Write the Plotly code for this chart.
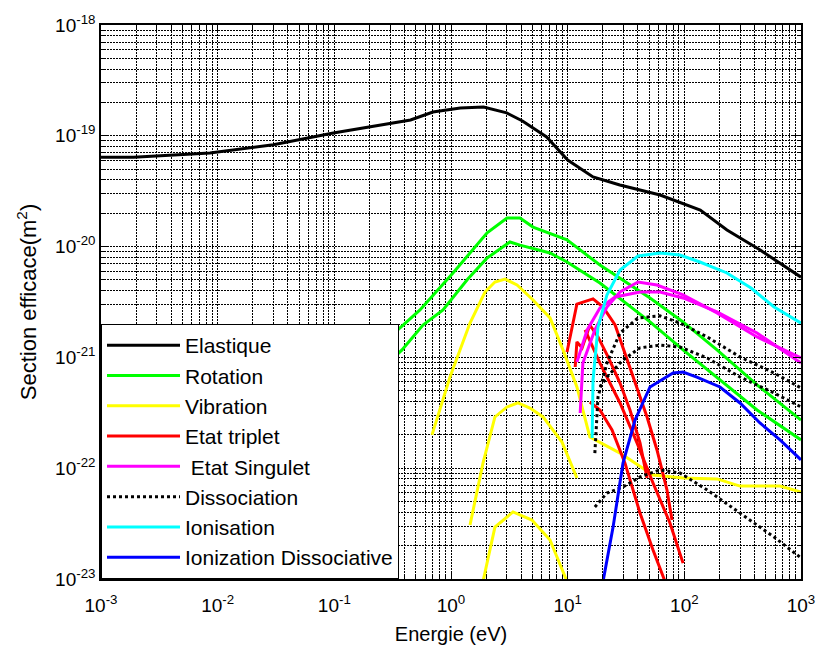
import plotly.graph_objects as go

# Cross sections (m^2) versus electron energy (eV)

elastic_E = [1e-3, 1.9e-3, 8.6e-3, 0.03, 0.098, 0.19, 0.45, 0.70, 1.2, 1.9, 3.0, 4.1, 6.6, 10, 16.5, 28, 62, 137, 232, 447, 1000]
elastic_sigma = [6.4e-20, 6.4e-20, 7.0e-20, 8.3e-20, 1.06e-19, 1.2e-19, 1.39e-19, 1.64e-19, 1.78e-19, 1.82e-19, 1.61e-19,
                 1.36e-19, 9.75e-20, 6.05e-20, 4.25e-20, 3.6e-20, 2.92e-20, 2.14e-20, 1.41e-20, 9.3e-21, 5.3e-21]

rotation_E = [
    [0.136, 0.366, 0.542, 1.04, 2.04, 3.02, 3.90, 5.05, 9.87, 18.9, 50.8, 97.5, 190.5, 420, 1000],
    [0.136, 0.380, 0.575, 0.854, 1.37, 2.04, 3.20, 3.90, 7.06, 9.87, 18.9, 50.8, 97.5, 202, 420, 1000],
]
rotation_sigma = [
    [7.23e-22, 1.84e-21, 2.68e-21, 5.78e-21, 1.33e-20, 1.81e-20, 1.81e-20, 1.50e-20, 1.15e-20, 6.82e-21, 3.44e-21,
     2.09e-21, 1.17e-21, 5.64e-22, 2.72e-22],
    [4.13e-22, 1.17e-21, 1.96e-21, 2.68e-21, 5.0e-21, 7.89e-21, 1.10e-20, 1.03e-20, 8.75e-21, 7.26e-21, 4.69e-21,
     2.09e-21, 1.17e-21, 6.25e-22, 3.35e-22, 1.80e-22],
]

vibration_E = [
    [0.687, 0.98, 1.455, 1.955, 2.38, 2.90, 3.68, 5.05, 7.06, 9.12, 12.0, 15.5, 28.1, 41.7, 53.9, 97.5, 190.5, 300, 661, 1000],
    [1.455, 1.88, 2.38, 3.02, 3.75, 4.75, 6.15, 8.94, 12.0],
    [1.88, 2.38, 3.40, 4.94, 7.06, 9.87],
]
vibration_sigma = [
    [2.0e-22, 6.65e-22, 2.04e-21, 3.89e-21, 4.79e-21, 5.10e-21, 4.50e-21, 3.30e-21, 2.27e-21, 1.17e-21, 5.41e-22,
     1.91e-22, 1.37e-22, 1.03e-22, 8.69e-23, 8.16e-23, 8.0e-23, 6.9e-23, 6.9e-23, 6.1e-23],
    [3.07e-23, 1.11e-22, 2.90e-22, 3.57e-22, 3.88e-22, 3.49e-22, 2.90e-22, 1.72e-22, 8.16e-23],
    [9.5e-24, 2.94e-23, 4.03e-23, 3.40e-23, 2.25e-23, 9.5e-24],
]

triplet_E = [
    [9.87, 12.0, 16.5, 20.1, 25.5, 31.0, 39.3, 47.9, 58.3, 71.0, 78.4],
    [11.6, 12.0, 13.3, 15.5, 18.2, 22.2, 28.1, 34.2, 41.7, 47.9],
    [14.1, 18.9, 28.1, 39.3, 53.9, 75.3, 97.5],
    [15.5, 18.9, 24.0, 31.0, 41.7, 53.9, 68.3],
]
triplet_sigma = [
    [1.12e-21, 3.03e-21, 3.37e-21, 2.85e-21, 1.96e-21, 1.10e-21, 5.41e-22, 2.90e-22, 1.46e-22, 6.36e-23, 3.40e-23],
    [8.19e-22, 1.38e-21, 1.22e-21, 1.96e-21, 1.53e-21, 1.01e-21, 5.87e-22, 3.35e-22, 1.69e-22, 8.16e-23],
    [1.77e-21, 8.89e-22, 3.88e-22, 1.69e-22, 7.35e-23, 3.2e-23, 1.39e-23],
    [3.96e-22, 3.35e-22, 2.21e-22, 1.11e-22, 3.94e-23, 1.83e-23, 9.5e-24],
]

singlet_E = [
    [12.8, 13.5, 17.1, 21.7, 28.1, 40.1, 58.3, 97.5, 190.5, 420, 1000],
    [12.0, 14.7, 18.9, 25.5, 41.7, 61.8, 97.5, 190.5, 420, 1000],
]
singlet_sigma = [
    [3.15e-22, 8.89e-22, 1.77e-21, 2.85e-21, 3.89e-21, 4.79e-21, 4.50e-21, 3.66e-21, 2.52e-21, 1.53e-21, 9.88e-22],
    [9.08e-22, 1.77e-21, 2.79e-21, 3.51e-21, 3.89e-21, 3.89e-21, 3.44e-21, 2.57e-21, 1.66e-21, 8.89e-22],
]

dissociation_E = [
    [17.1, 18.2, 21.7, 28.1, 40.1, 61.8, 91.8, 157, 300, 588, 1000],
    [18.9, 21.7, 29.8, 41.7, 61.8, 91.8, 157, 300, 588, 1000],
    [17.1, 21.7, 29.8, 41.7, 61.8, 91.8, 157, 300, 588, 1000],
]
dissociation_sigma = [
    [1.37e-22, 4.39e-22, 8.89e-22, 1.66e-21, 2.27e-21, 2.37e-21, 2.04e-21, 1.53e-21, 1.01e-21, 7.23e-22, 5.30e-22],
    [5.41e-22, 6.65e-22, 9.48e-22, 1.22e-21, 1.29e-21, 1.24e-21, 9.88e-22, 6.65e-22, 4.77e-22, 3.57e-22],
    [4.47e-23, 5.97e-23, 6.76e-23, 8.33e-23, 9.64e-23, 9.06e-23, 6.36e-23, 3.94e-23, 2.39e-23, 1.55e-23],
]

ionisation_E = [16.2, 16.5, 18.2, 21.7, 28.1, 40.1, 61.8, 91.8, 136, 232, 373, 588, 1000]
ionisation_sigma = [1.87e-22, 6.25e-22, 1.88e-21, 3.66e-21, 6.15e-21, 8.22e-21, 8.75e-21, 8.4e-21, 7.26e-21,
                    5.78e-21, 4.23e-21, 2.85e-21, 2.04e-21]

dissoc_ion_E = [20.1, 24.5, 29.8, 37.8, 50.8, 80.0, 97.5, 128, 202, 300, 445, 661, 1000]
dissoc_ion_sigma = [9.5e-24, 2.94e-23, 1.11e-22, 2.72e-22, 5.41e-22, 7.23e-22, 7.38e-22, 6.65e-22, 5.41e-22,
                    3.88e-22, 2.56e-22, 1.80e-22, 1.19e-22]

tick_x = [1e-3, 1e-2, 1e-1, 1e0, 1e1, 1e2, 1e3]
tick_x_text = ["10<sup>-3</sup>", "10<sup>-2</sup>", "10<sup>-1</sup>", "10<sup>0</sup>",
               "10<sup>1</sup>", "10<sup>2</sup>", "10<sup>3</sup>"]
tick_y = [1e-23, 1e-22, 1e-21, 1e-20, 1e-19, 1e-18]
tick_y_text = ["10<sup>-23</sup>", "10<sup>-22</sup>", "10<sup>-21</sup>", "10<sup>-20</sup>",
               "10<sup>-19</sup>", "10<sup>-18</sup>"]

FONT = "Arial, Liberation Sans, sans-serif"
LW = 3

fig = go.Figure()


def add_group(name, xs_list, ys_list, color, dash="solid"):
    for i, (xs, ys) in enumerate(zip(xs_list, ys_list)):
        fig.add_trace(go.Scatter(
            x=xs, y=ys, mode="lines", name=name, legendgroup=name,
            showlegend=(i == 0), line=dict(color=color, width=LW, dash=dash),
        ))


add_group("Elastique", [elastic_E], [elastic_sigma], "#000000")
add_group("Rotation", rotation_E, rotation_sigma, "#00ff00")
add_group("Vibration", vibration_E, vibration_sigma, "#ffff00")
add_group("Etat triplet", triplet_E, triplet_sigma, "#ff0000")
add_group("\u00a0Etat Singulet", singlet_E, singlet_sigma, "#ff00ff")
add_group("Dissociation", dissociation_E, dissociation_sigma, "#000000", dash="dot")
add_group("Ionisation", [ionisation_E], [ionisation_sigma], "#00ffff")
add_group("Ionization Dissociative", [dissoc_ion_E], [dissoc_ion_sigma], "#0000ff")

GRID = dict(gridcolor="#000000", griddash="2px,1px", gridwidth=1)
grid_minor = dict(ticks="inside", ticklen=4, tickcolor="black", dtick="D1", showgrid=True, **GRID)

axis_common = dict(
    type="log", tickmode="array", ticks="inside", ticklen=8, tickcolor="black",
    showline=True, linecolor="black", linewidth=1.5, mirror="allticks",
    showgrid=True, **GRID, minor=grid_minor, automargin=False, zeroline=False,
    tickfont=dict(family=FONT, size=19, color="black"),
)

fig.update_xaxes(
    range=[-3, 3], tickvals=tick_x, ticktext=tick_x_text, ticklabelstandoff=8,
    title=dict(text="Energie (eV)", font=dict(family=FONT, size=20, color="black"), standoff=12),
    **axis_common,
)
fig.update_yaxes(
    range=[-23, -18], tickvals=tick_y, ticktext=tick_y_text,
    title=dict(text="Section efficace(m<sup>2</sup>)", font=dict(family=FONT, size=22, color="black"), standoff=12),
    **axis_common,
)

fig.update_layout(
    width=817, height=646,
    margin=dict(l=101, r=16, t=25, b=67),
    paper_bgcolor="white", plot_bgcolor="white",
    font=dict(family=FONT, color="black"),
    legend=dict(
        x=0, y=0, xanchor="left", yanchor="bottom",
        bgcolor="white", bordercolor="black", borderwidth=1,
        font=dict(family=FONT, size=21, color="black"),
        itemwidth=73, tracegroupgap=0,
    ),
)

fig.write_html("out.html")
